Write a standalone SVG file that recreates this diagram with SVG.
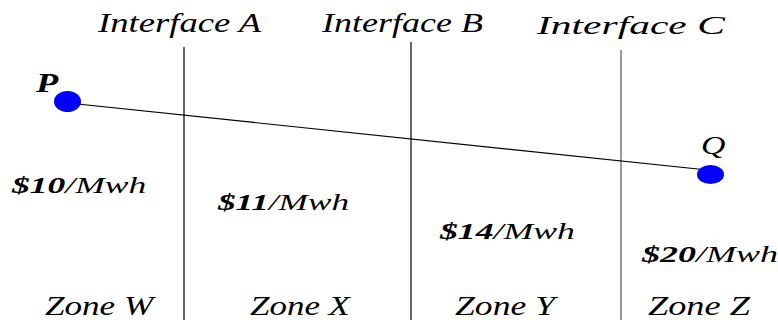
<svg xmlns="http://www.w3.org/2000/svg" width="778" height="320" viewBox="0 0 778 320">
<style>
text{font-family:'Liberation Serif','Times New Roman',serif;font-style:italic;fill:#000}
.h{font-size:28px}
.p{font-size:24px}
.z{font-size:27px}
.b{font-weight:bold}
.dot{fill:#0000ff}
.div{stroke:#000;stroke-width:1.2}
</style>
<rect width="778" height="320" fill="#fff"/>
<g id="interface-a"><text class="h" transform="translate(98,32) scale(1.31,1)">Interface A</text><line class="div" x1="184" y1="47" x2="184" y2="320"/></g>
<g id="interface-b"><text class="h" transform="translate(322,32) scale(1.286,1)">Interface B</text><line class="div" x1="411" y1="42" x2="411" y2="320"/></g>
<g id="interface-c"><text transform="translate(537,34) scale(1.66,1)" style="font-size:25px">Interface C</text><line class="div" x1="621" y1="50" x2="621" y2="320" style="stroke:#555"/></g>
<g id="connectors"><line x1="68" y1="103" x2="717" y2="171" stroke="#000" stroke-width="1.2"/></g>
<g id="P"><ellipse class="dot" cx="67.5" cy="101.5" rx="13.5" ry="10.5"/><text class="b" transform="translate(36,92) scale(1.3,1)" style="font-size:28px">P</text></g>
<g id="Q"><ellipse class="dot" cx="710.5" cy="174.5" rx="13.5" ry="9.5"/><text transform="translate(701,154) scale(1.3,1)" style="font-size:26px">Q</text></g>
<g id="zone-w"><text class="p" transform="translate(12,193) scale(1.48,1)"><tspan class="b">$10</tspan>/Mwh</text><text class="z" transform="translate(45,315) scale(1.3,1)">Zone W</text></g>
<g id="zone-x"><text class="p" transform="translate(218,210) scale(1.466,1)"><tspan class="b">$11</tspan>/Mwh</text><text class="z" transform="translate(250,315) scale(1.295,1)">Zone X</text></g>
<g id="zone-y"><text class="p" transform="translate(440,239) scale(1.489,1)"><tspan class="b">$14</tspan>/Mwh</text><text class="z" transform="translate(455,315) scale(1.32,1)">Zone Y</text></g>
<g id="zone-z"><text class="p" transform="translate(642,262) scale(1.5,1)"><tspan class="b">$20</tspan>/Mwh</text><text class="z" transform="translate(648,315) scale(1.346,1)">Zone Z</text></g>
</svg>
